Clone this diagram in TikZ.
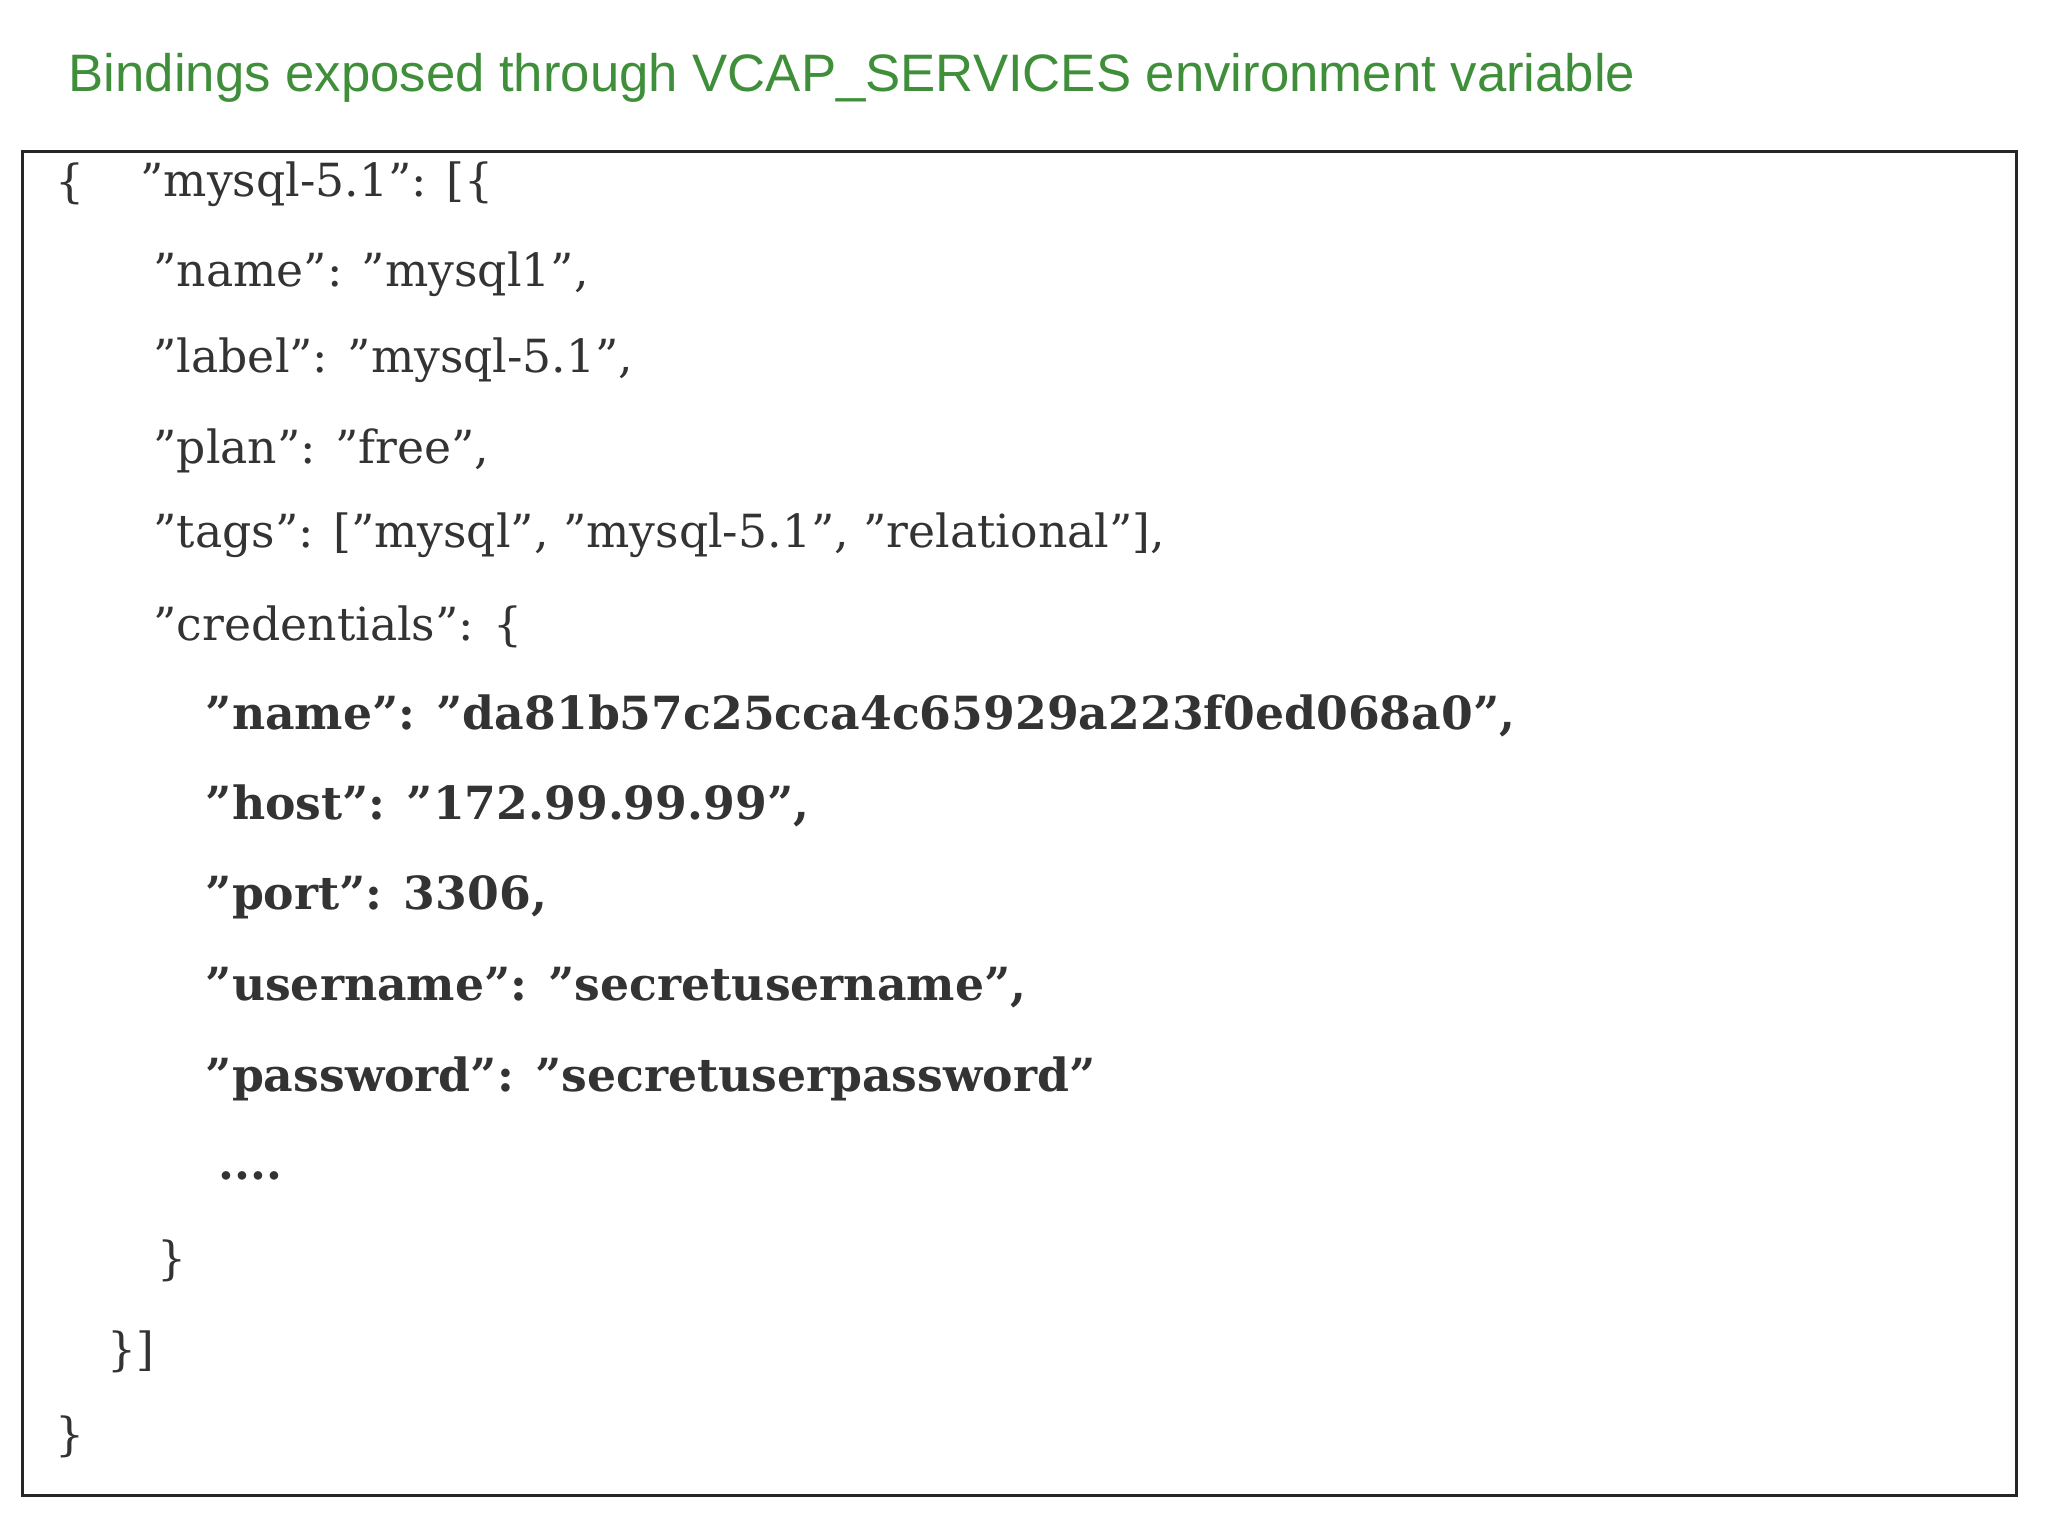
\documentclass[tikz,border=0pt]{standalone}
\usepackage{fontspec}
\setmainfont{DejaVu Serif}
\newfontfamily\titlefont{Liberation Sans}
\definecolor{titlegreen}{HTML}{3F8F3A}
\definecolor{codegray}{HTML}{333333}
\begin{document}
\begin{tikzpicture}[x=0.013061cm,y=-0.013061cm,
  code/.style={anchor=west,inner sep=0pt,text=codegray,font=\fontsize{13pt}{15pt}\selectfont},
  bcode/.style={code,font=\fontsize{13pt}{15pt}\selectfont\bfseries}]
\useasboundingbox (0,0) rectangle (1568,1176);
\node[anchor=west,inner sep=0pt,text=titlegreen,font=\titlefont\fontsize{15pt}{18pt}\selectfont] (title) at (52,60) {Bindings exposed through VCAP\_SERVICES environment variable};
\draw[line width=0.8pt,black!85] (17,116) rectangle (1544,1145);
\node[code] (l0a) at (42,141) {\{};
\node[code] (l0b) at (107,141) {"mysql-5.1": [\{};
\node[code] (l1) at (117,210) {"name": "mysql1",};
\node[code] (l2) at (117,276) {"label": "mysql-5.1",};
\node[code] (l3) at (117,345) {"plan": "free",};
\node[code] (l4) at (117,410) {"tags": ["mysql", "mysql-5.1", "relational"],};
\node[code] (l5) at (117,480) {"credentials": \{};
\node[bcode] (l6) at (157,548) {"name": "da81b57c25cca4c65929a223f0ed068a0",};
\node[bcode] (l7) at (157,617) {"host": "172.99.99.99",};
\node[bcode] (l8) at (157,687) {"port": 3306,};
\node[bcode] (l9) at (157,756) {"username": "secretusername",};
\node[bcode] (l10) at (157,826) {"password": "secretuserpassword"};
\node[bcode] (l11) at (167,900) {....};
\node[code] (l12) at (120,965) {\}};
\node[code] (l13) at (82,1035) {\}]};
\node[code] (l14) at (42,1100) {\}};
\end{tikzpicture}
\end{document}
